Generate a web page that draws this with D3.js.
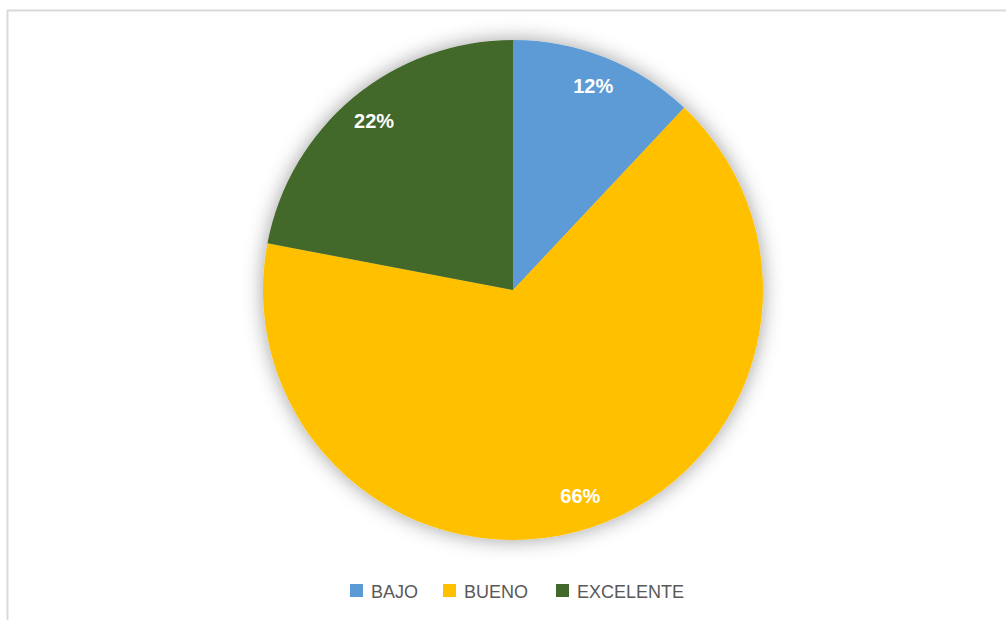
<!DOCTYPE html>
<html lang="es">
<head>
  <meta charset="utf-8">
  <title>Pie chart</title>
  <script src="https://d3js.org/d3.v7.min.js"></script>
  <style>
    body { margin: 0; background: #fff; }
    .legend text { font-family: "Liberation Sans", Arial, sans-serif; font-size: 18px; fill: #595959; }
    .pct { font-family: "Liberation Sans", Arial, sans-serif; font-size: 20px; font-weight: bold; fill: #fff; }
  </style>
</head>
<body>
<script>
  // chart data
  var categories = ["BAJO", "BUENO", "EXCELENTE"];
  var values = [12, 66, 22];
  var colors = ["#5B9BD5", "#FFC000", "#43682B"];

  var width = 1006, height = 620;
  var cx = 513, cy = 290, radius = 250;

  var svg = d3.select("body").append("svg")
      .attr("width", width)
      .attr("height", height);

  // chart frame (right/bottom edges sit outside the window)
  svg.append("rect")
      .attr("x", 7.5).attr("y", 10.5)
      .attr("width", 1100).attr("height", 700)
      .attr("fill", "none")
      .attr("stroke", "#d9d9d9")
      .attr("stroke-width", 2);

  var defs = svg.append("defs");
  var f = defs.append("filter").attr("id", "glow")
      .attr("x", "-20%").attr("y", "-20%").attr("width", "140%").attr("height", "140%");
  f.append("feDropShadow")
      .attr("dx", 0).attr("dy", 0)
      .attr("stdDeviation", 10)
      .attr("flood-color", "#000")
      .attr("flood-opacity", 0.38);

  var pie = d3.pie().sort(null).value(function(d) { return d; });
  var arc = d3.arc().innerRadius(0).outerRadius(radius);
  var labelArc = d3.arc().innerRadius(436).outerRadius(0);

  var g = svg.append("g").attr("transform", "translate(" + cx + "," + cy + ")");

  var arcs = pie(values);

  g.append("g").attr("filter", "url(#glow)")
    .selectAll("path")
    .data(arcs)
    .enter().append("path")
      .attr("d", arc)
      .attr("fill", function(d, i) { return colors[i]; });

  g.selectAll("text.pct")
    .data(arcs)
    .enter().append("text")
      .attr("class", "pct")
      .attr("transform", function(d) { return "translate(" + labelArc.centroid(d) + ")"; })
      .attr("text-anchor", "middle")
      .attr("dy", "0.3em")
      .text(function(d) { return d.data + "%"; });

  // legend
  var legendX = [350, 443, 556];
  var legend = svg.append("g").attr("class", "legend");
  var items = legend.selectAll("g")
      .data(categories)
      .enter().append("g")
      .attr("transform", function(d, i) { return "translate(" + legendX[i] + ",584)"; });
  items.append("rect")
      .attr("width", 13).attr("height", 13)
      .attr("fill", function(d, i) { return colors[i]; });
  items.append("text")
      .attr("x", 21).attr("y", 13.5)
      .text(function(d) { return d; });
</script>
</body>
</html>
